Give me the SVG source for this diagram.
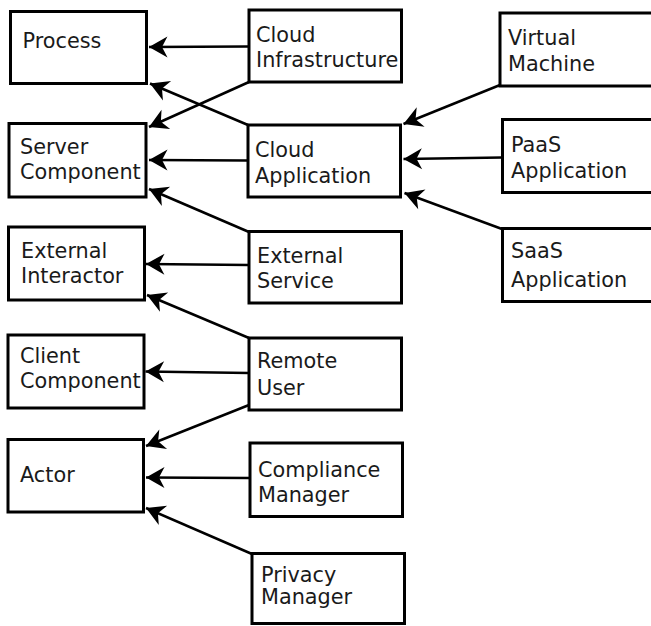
<svg xmlns="http://www.w3.org/2000/svg" width="651" height="626" viewBox="0 0 651 626">
  <style>
    .box { fill: #ffffff; stroke: #000000; stroke-width: 3; }
    .lbl { font-family: "DejaVu Sans", "Liberation Sans", sans-serif; font-size: 20.8px; fill: #1a1a1a; }
    .edge { stroke: #000000; stroke-width: 2.5; fill: none; marker-end: url(#head); }
  </style>
  <defs>
    <marker id="head" markerUnits="userSpaceOnUse" markerWidth="22" markerHeight="24" viewBox="-20 -12 22 24" refX="0" refY="0" orient="auto">
      <path d="M0,0 L-18.5,-10.5 L-13,0 L-18.5,10.5 Z" fill="#000000"/>
    </marker>
  </defs>

  <g id="edges">
    <line class="edge" x1="248" y1="46.5" x2="149" y2="47"/>
    <line class="edge" x1="249" y1="82" x2="149" y2="127"/>
    <line class="edge" x1="248" y1="125" x2="150" y2="83.5"/>
    <line class="edge" x1="247" y1="160.5" x2="149" y2="160"/>
    <line class="edge" x1="249" y1="232" x2="149" y2="189"/>
    <line class="edge" x1="249" y1="265" x2="146" y2="264"/>
    <line class="edge" x1="249" y1="338" x2="147" y2="295"/>
    <line class="edge" x1="249" y1="373" x2="145.5" y2="371.5"/>
    <line class="edge" x1="249" y1="405" x2="146" y2="446"/>
    <line class="edge" x1="250" y1="478" x2="146" y2="477.5"/>
    <line class="edge" x1="252" y1="554" x2="146" y2="508"/>
    <line class="edge" x1="500" y1="85" x2="403.5" y2="124"/>
    <line class="edge" x1="502" y1="157.5" x2="403.5" y2="159"/>
    <line class="edge" x1="502" y1="229" x2="404.5" y2="193"/>
  </g>

  <g id="process">
    <rect class="box" x="10.5" y="11.5" width="136" height="72"/>
    <text class="lbl" x="22.5" y="48">Process</text>
  </g>
  <g id="server-component">
    <rect class="box" x="9" y="123.5" width="137" height="73.5"/>
    <text class="lbl" x="20" y="154">Server</text>
    <text class="lbl" x="20" y="179">Component</text>
  </g>
  <g id="external-interactor">
    <rect class="box" x="8.5" y="227" width="136" height="73"/>
    <text class="lbl" x="21" y="258">External</text>
    <text class="lbl" x="21" y="283">Interactor</text>
  </g>
  <g id="client-component">
    <rect class="box" x="8" y="335" width="136" height="73"/>
    <text class="lbl" x="20" y="363">Client</text>
    <text class="lbl" x="20" y="388">Component</text>
  </g>
  <g id="actor">
    <rect class="box" x="8" y="439.5" width="135.5" height="72.5"/>
    <text class="lbl" x="20" y="482">Actor</text>
  </g>

  <g id="cloud-infrastructure">
    <rect class="box" x="249" y="10" width="152.5" height="72"/>
    <text class="lbl" x="256" y="42">Cloud</text>
    <text class="lbl" x="256" y="67">Infrastructure</text>
  </g>
  <g id="cloud-application">
    <rect class="box" x="248" y="125" width="152.5" height="72"/>
    <text class="lbl" x="255" y="157">Cloud</text>
    <text class="lbl" x="255" y="183">Application</text>
  </g>
  <g id="external-service">
    <rect class="box" x="249" y="231.5" width="152.5" height="71.5"/>
    <text class="lbl" x="257" y="263">External</text>
    <text class="lbl" x="257" y="288">Service</text>
  </g>
  <g id="remote-user">
    <rect class="box" x="249" y="338" width="152.5" height="72"/>
    <text class="lbl" x="257" y="368">Remote</text>
    <text class="lbl" x="257" y="395">User</text>
  </g>
  <g id="compliance-manager">
    <rect class="box" x="250" y="443" width="152.5" height="73.5"/>
    <text class="lbl" x="258" y="477">Compliance</text>
    <text class="lbl" x="258" y="502">Manager</text>
  </g>
  <g id="privacy-manager">
    <rect class="box" x="252" y="553.5" width="152.5" height="70"/>
    <text class="lbl" x="261" y="582">Privacy</text>
    <text class="lbl" x="261" y="604">Manager</text>
  </g>

  <g id="virtual-machine">
    <rect class="box" x="500" y="13" width="160" height="73"/>
    <text class="lbl" x="508" y="45">Virtual</text>
    <text class="lbl" x="508" y="71">Machine</text>
  </g>
  <g id="paas-application">
    <rect class="box" x="502.5" y="119.5" width="160" height="73"/>
    <text class="lbl" x="511" y="152">PaaS</text>
    <text class="lbl" x="511" y="178">Application</text>
  </g>
  <g id="saas-application">
    <rect class="box" x="502.5" y="228.5" width="160" height="73"/>
    <text class="lbl" x="511" y="258">SaaS</text>
    <text class="lbl" x="511" y="287">Application</text>
  </g>
</svg>
